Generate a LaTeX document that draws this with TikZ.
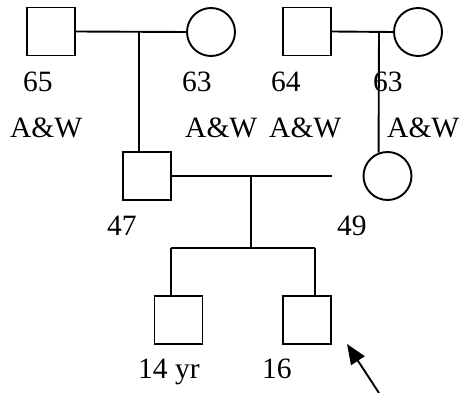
\documentclass[tikz,border=0pt]{standalone}
\usepackage{fontspec}
\setmainfont{Liberation Serif}
\usetikzlibrary{arrows.meta}
\begin{document}
\begin{tikzpicture}[x=1pt,y=-1pt,
  male/.style={draw,line width=1.9pt,rectangle,minimum size=48pt,inner sep=0pt},
  female/.style={draw,line width=1.9pt,circle,minimum size=48pt,inner sep=0pt},
  lbl/.style={anchor=base west,inner sep=0pt,font=\fontsize{29.5}{32}\selectfont},
  link/.style={line width=1.9pt}]
\useasboundingbox (0,0) rectangle (466,393);
% persons
\node[male] (p65) at (51,31.5) {};
\node[female] (p63a) at (211,32) {};
\node[male] (p64) at (307,31.5) {};
\node[female] (p63b) at (418,32) {};
\node[male] (p47) at (147,176) {};
\node[female] (pd) at (387.5,176) {};
\node[male] (c14) at (178.5,320) {};
\node[male] (c16) at (307,320) {};
% junctions
\coordinate (m1) at (139,32);
\coordinate (m2) at (379,32);
\coordinate (m3) at (251,176);
\coordinate (e49) at (332,176);
\coordinate (s1) at (251,248);
\coordinate (sl) at (171,248);
\coordinate (sr) at (315,248);
\coordinate (at) at (347,344);
\coordinate (af) at (379,393);
% connectors
\draw[link] (p65.east) -- (p63a.west);
\draw[link] (m1) -- (m1 |- p47.north);
\draw[link] (p64.east) -- (p63b.west);
\draw[link] (m2) -- (pd.111);
\draw[link] (p47.east) -- (e49);
\draw[link] (m3) -- (s1);
\draw[link] (sl) -- (sr);
\draw[link] (sl) -- (sl |- c14.north);
\draw[link] (sr) -- (sr |- c16.north);
\draw[link,-{Triangle[length=20pt,width=16pt]}] (af) -- (at);
% labels
\node[lbl] (t65) at (23,92) {65};
\node[lbl] (t63a) at (182,92) {63};
\node[lbl] (t64) at (271,92) {64};
\node[lbl] (t63b) at (373,92) {63};
\node[lbl] (aw1) at (10,138) {A\&W};
\node[lbl] (aw2) at (185,138) {A\&W};
\node[lbl] (aw3) at (269,138) {A\&W};
\node[lbl] (aw4) at (387,138) {A\&W};
\node[lbl] (t47) at (107,235) {47};
\node[lbl] (t49) at (337,235) {49};
\node[lbl] (t14) at (138,378) {14 yr};
\node[lbl] (t16) at (262,378) {16};
\end{tikzpicture}
\end{document}
